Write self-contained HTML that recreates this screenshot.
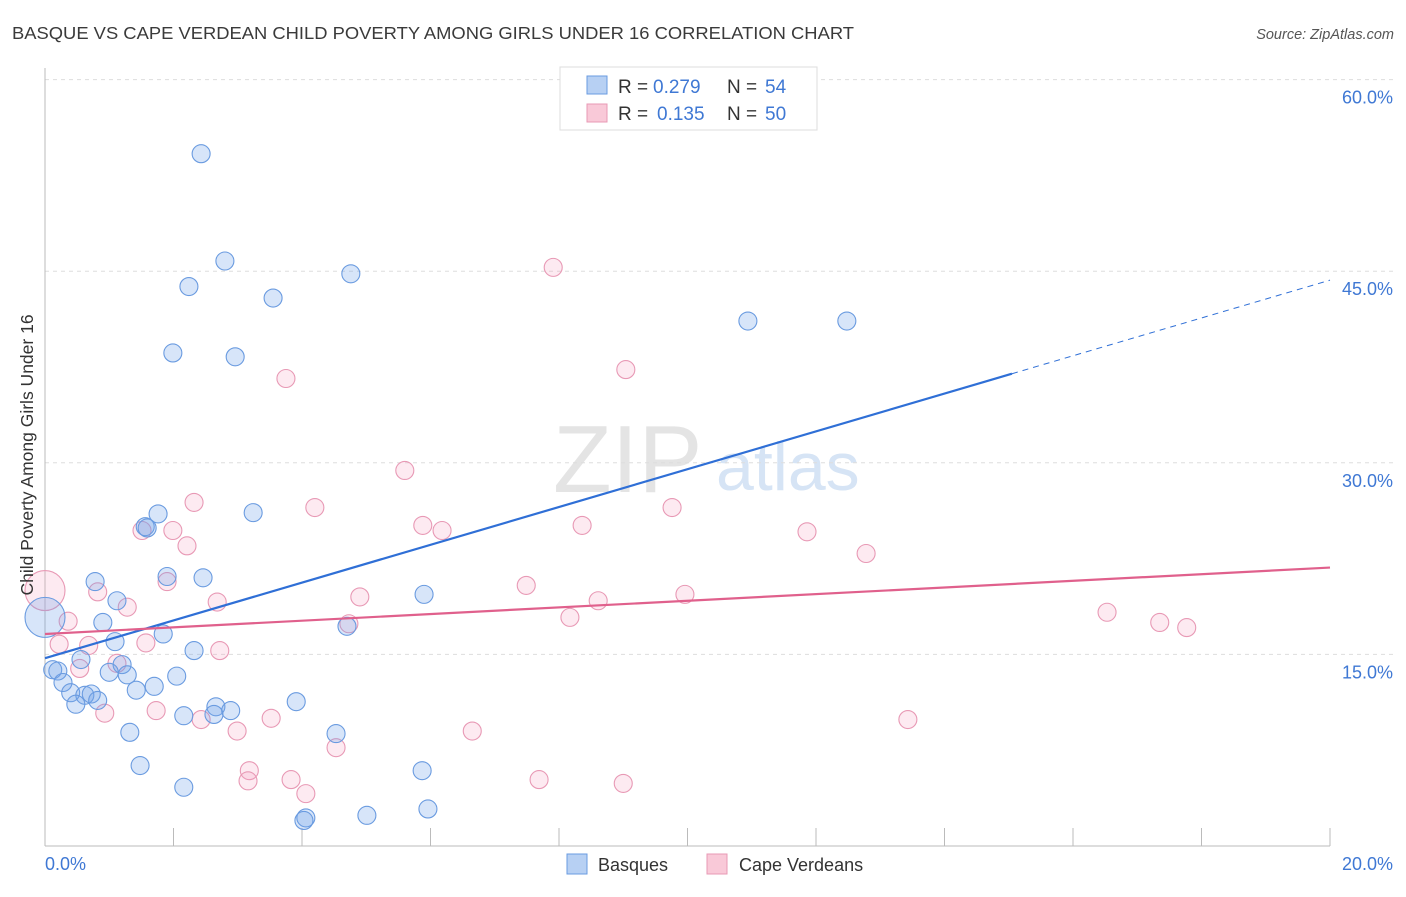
<!DOCTYPE html>
<html><head><meta charset="utf-8"><style>
body{margin:0;background:#fff;font-family:"Liberation Sans",sans-serif;}
svg text{font-family:"Liberation Sans",sans-serif;}
</style></head><body>
<svg id="chart" width="1406" height="892">
<text x="12" y="39" font-size="17.5" fill="#3a3a3a" textLength="842" lengthAdjust="spacingAndGlyphs">BASQUE VS CAPE VERDEAN CHILD POVERTY AMONG GIRLS UNDER 16 CORRELATION CHART</text>
<text x="1394" y="39" font-size="14.5" fill="#555" font-style="italic" text-anchor="end">Source: ZipAtlas.com</text>
<g><text x="553" y="492" font-size="96" fill="#e4e4e4" font-family="Liberation Serif">ZIP</text><text x="716" y="490" font-size="68" fill="#d6e4f5">atlas</text></g>
<g id="grid"></g>
<g id="axes"></g>
<g id="pts"></g>
<g id="trends"></g>
<text transform="translate(33,455) rotate(-90)" font-size="17.5" fill="#333" text-anchor="middle">Child Poverty Among Girls Under 16</text>
<g>
<rect x="560" y="67" width="257" height="63" fill="#fff" stroke="#ddd"/>
<rect x="587" y="76" width="20" height="18" fill="#b7d0f3" stroke="#6a9be0"/>
<rect x="587" y="104" width="20" height="18" fill="#f9c9d8" stroke="#e899b5"/>
<text x="618" y="93" font-size="19" fill="#333">R =</text><text x="653" y="93" font-size="19" fill="#3f78d4">0.279</text>
<text x="727" y="93" font-size="19" fill="#333">N =</text><text x="765" y="93" font-size="19" fill="#3f78d4">54</text>
<text x="618" y="120" font-size="19" fill="#333">R =</text><text x="657" y="120" font-size="19" fill="#3f78d4">0.135</text>
<text x="727" y="120" font-size="19" fill="#333">N =</text><text x="765" y="120" font-size="19" fill="#3f78d4">50</text>
</g>
<g>
<rect x="567" y="854" width="20" height="20" fill="#b7d0f3" stroke="#6a9be0"/>
<text x="598" y="871" font-size="18" fill="#333">Basques</text>
<rect x="707" y="854" width="20" height="20" fill="#f9c9d8" stroke="#e899b5"/>
<text x="739" y="871" font-size="18" fill="#333">Cape Verdeans</text>
</g>
</svg>
<script>
const blueX=[2.43,2.80,4.76,2.24,3.55,1.99,2.96,10.94,12.48,3.24,1.76,1.56,1.59,1.90,2.46,0.78,1.12,5.90,0.90,1.84,1.09,4.70,2.32,0.56,0.12,0.20,1.20,1.00,1.28,0.28,2.05,1.70,1.42,0.40,0.62,0.72,0.82,0.48,3.91,2.66,2.89,2.16,2.63,1.32,4.53,1.48,5.87,2.16,5.96,5.01,4.06,4.03,0.0];
const blueY=[54.2,45.8,44.8,43.8,42.9,38.6,38.3,41.1,41.1,26.1,26.0,25.0,24.9,21.1,21.0,20.7,19.2,19.7,17.5,16.6,16.0,17.2,15.3,14.6,13.8,13.7,14.2,13.6,13.4,12.8,13.3,12.5,12.2,12.0,11.8,11.9,11.4,11.1,11.3,10.9,10.6,10.2,10.3,8.9,8.8,6.3,5.9,4.6,2.9,2.4,2.2,2.0,17.9];
const pinkX=[7.91,9.04,3.75,5.60,2.32,4.20,9.76,5.88,8.36,1.51,1.99,6.18,11.86,2.21,12.78,0,0.82,1.90,7.49,4.90,2.68,9.96,8.61,1.28,8.17,16.53,17.35,17.77,0.36,4.73,0.22,0.68,1.57,2.72,1.12,0.54,0.93,1.73,2.43,3.52,2.99,6.65,13.43,4.53,3.18,3.16,3.83,4.06,7.69,9.00];
const pinkY=[45.3,37.3,36.6,29.4,26.9,26.5,26.5,25.1,25.1,24.7,24.7,24.7,24.6,23.5,22.9,20.0,19.9,20.7,20.4,19.5,19.1,19.7,19.2,18.7,17.9,18.3,17.5,17.1,17.6,17.4,15.8,15.7,15.9,15.3,14.3,13.9,10.4,10.6,9.9,10.0,9.0,9.0,9.9,7.7,5.9,5.1,5.2,4.1,5.2,4.9];
const yTicks=[15,30,45,60];
const yTickLabels=["15.0%","30.0%","45.0%","60.0%"];
const xTicks=[0,2,4,6,8,10,12,14,16,18,20];
const blueTrend=[14.7,44.3];
const pinkTrend=[16.6,21.8];
const NS="http://www.w3.org/2000/svg";
const sx=v=>45+v*64.25, sy=v=>846-v*12.773;
function mk(tag,attrs,parent){const e=document.createElementNS(NS,tag);for(const k in attrs)e.setAttribute(k,attrs[k]);document.getElementById(parent).appendChild(e);return e;}
yTicks.forEach((t,i)=>{
 const l=mk('line',{x1:45,x2:1393,y1:sy(t),y2:sy(t),stroke:'#ddd','stroke-dasharray':'4,4'},'grid');
 
 
 const tx=mk('text',{x:1393,y:sy(t)+24,'font-size':18,fill:'#3f78d4','text-anchor':'end'},'grid');
 tx.textContent=yTickLabels[i];
 
 
});
const ax=mk('line',{x1:45,x2:45,y1:68,y2:846,stroke:'#bbb'},'axes');


const bx=mk('line',{x1:45,x2:1330,y1:846,y2:846,stroke:'#bbb'},'axes');


xTicks.forEach(t=>{
 const l=mk('line',{x1:sx(t),x2:sx(t),y1:828,y2:846,stroke:'#bbb'},'axes');
 
 
});
const xl0=mk('text',{x:45,y:870,'font-size':18,fill:'#3f78d4'},'axes');xl0.textContent="0.0%";


const xl1=mk('text',{x:1393,y:870,'font-size':18,fill:'#3f78d4','text-anchor':'end'},'axes');xl1.textContent="20.0%";


function pts(X,Y,fill,stroke,name){X.forEach((x,i)=>{
 const big=(x===0);
 const c=mk('circle',{cx:sx(x),cy:sy(Y[i]),r:big?20:9,fill:fill,stroke:stroke,'stroke-width':1.1},'pts');
 
 
});}
pts(pinkX,pinkY,'rgba(244,160,190,0.22)','#e899b5','cape-verdean-point');
pts(blueX,blueY,'rgba(110,160,235,0.28)','#6a9be0','basque-point');
const bslope=(blueTrend[1]-blueTrend[0])/20;
const b1=mk('line',{x1:sx(0),y1:sy(blueTrend[0]),x2:sx(15.05),y2:sy(blueTrend[0]+bslope*15.05),stroke:'#2f6fd6','stroke-width':2.2},'trends');


const b2=mk('line',{x1:sx(15.05),y1:sy(blueTrend[0]+bslope*15.05),x2:sx(20),y2:sy(blueTrend[1]),stroke:'#2f6fd6','stroke-width':1,'stroke-dasharray':'6,5'},'trends');


const p1=mk('line',{x1:sx(0),y1:sy(pinkTrend[0]),x2:sx(20),y2:sy(pinkTrend[1]),stroke:'#e0608c','stroke-width':2.2},'trends');


</script>
</body></html>
